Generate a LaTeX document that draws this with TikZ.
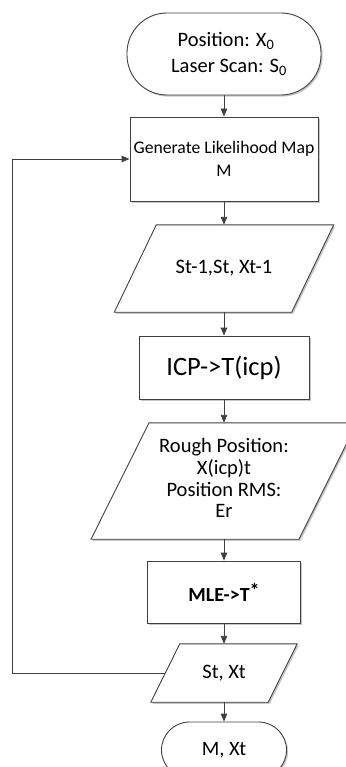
\documentclass[tikz,border=0pt]{standalone}
\usepackage{fontspec}
\setmainfont{Carlito}
\usetikzlibrary{arrows.meta,shadows,backgrounds}
\definecolor{ln}{HTML}{404040}
\tikzset{
  shp/.style={draw=ln, line width=0.9pt, fill=white,
    drop shadow={shadow xshift=1.6pt, shadow yshift=-1.6pt, fill=black, opacity=0.22}},
  term/.style={shp, rectangle, align=center, inner sep=0pt},
  procbox/.style={shp, rectangle, align=center, inner sep=0pt},
  iotext/.style={draw=none, rectangle, align=center, inner sep=0pt},
  conn/.style={draw=ln, line width=0.9pt, -{Triangle[width=6.5pt,length=8pt]}},
  fbase/.style={font=\fontsize{20.5}{22}\selectfont},
}
\begin{document}
\begin{tikzpicture}[x=1pt, y=-1pt]
\useasboundingbox (0,0) rectangle (345,767);

\node[term, rounded corners=40pt, minimum width=194pt, minimum height=82pt, fbase] (start) at (224,54)
  {\hspace*{4pt}Position: X\textsubscript{0}\\[4pt]\hspace*{10pt}Laser Scan: S\textsubscript{0}};

\node[procbox, minimum width=188pt, minimum height=84pt, font=\fontsize{17.7}{23}\selectfont] (gen) at (224,159)
  {Generate Likelihood Map\\M};

\node[iotext, minimum width=177pt, minimum height=87pt, fbase] (p1) at (224,268.5) {St-1,St, Xt-1};

\node[procbox, minimum width=170pt, minimum height=63pt, font=\fontsize{26.5}{30}\selectfont] (icp) at (224,367.5) {ICP->T(icp)};

\node[iotext, minimum width=207.5pt, minimum height=116pt, font=\fontsize{20.5}{21.7}\selectfont] (p2) at (224,481)
  {\raisebox{-5pt}{\begin{tabular}{@{}c@{}}Rough Position:\\X(icp)t\\Position RMS:\\Er\end{tabular}}};

\node[procbox, minimum width=153pt, minimum height=62pt, font=\bfseries\fontsize{20}{22}\selectfont] (mle) at (224,592) {MLE->T\raisebox{0.2em}{*}};

\node[iotext, minimum width=117pt, minimum height=58pt, fbase] (p3) at (224,673) {St, Xt};

\node[term, rounded corners=28pt, minimum width=125pt, minimum height=56pt, fbase] (end) at (224,750) {M, Xt};

\begin{scope}[on background layer]
  \fill[white] (0,0) rectangle (345,767);
  \draw[shp] ([xshift=21pt]p1.north west) -- ([xshift=21pt]p1.north east) -- ([xshift=-21pt]p1.south east) -- ([xshift=-21pt]p1.south west) -- cycle;
  \draw[shp] ([xshift=29pt]p2.north west) -- ([xshift=29pt]p2.north east) -- ([xshift=-29pt]p2.south east) -- ([xshift=-29pt]p2.south west) -- cycle;
  \draw[shp] ([xshift=14.5pt]p3.north west) -- ([xshift=14.5pt]p3.north east) -- ([xshift=-14.5pt]p3.south east) -- ([xshift=-14.5pt]p3.south west) -- cycle;
\end{scope}

\draw[conn] (start.south) -- (gen.north);
\draw[conn] (gen.south) -- (p1.north);
\draw[conn] (p1.south) -- (icp.north);
\draw[conn] (icp.south) -- (p2.north);
\draw[conn] (p2.south) -- (mle.north);
\draw[conn] (mle.south) -- (p3.north);
\draw[conn] (p3.south) -- (end.north);
\draw[conn] (p3.west) -- ++(-152.5,0) |- (gen.west);
\end{tikzpicture}
\end{document}
